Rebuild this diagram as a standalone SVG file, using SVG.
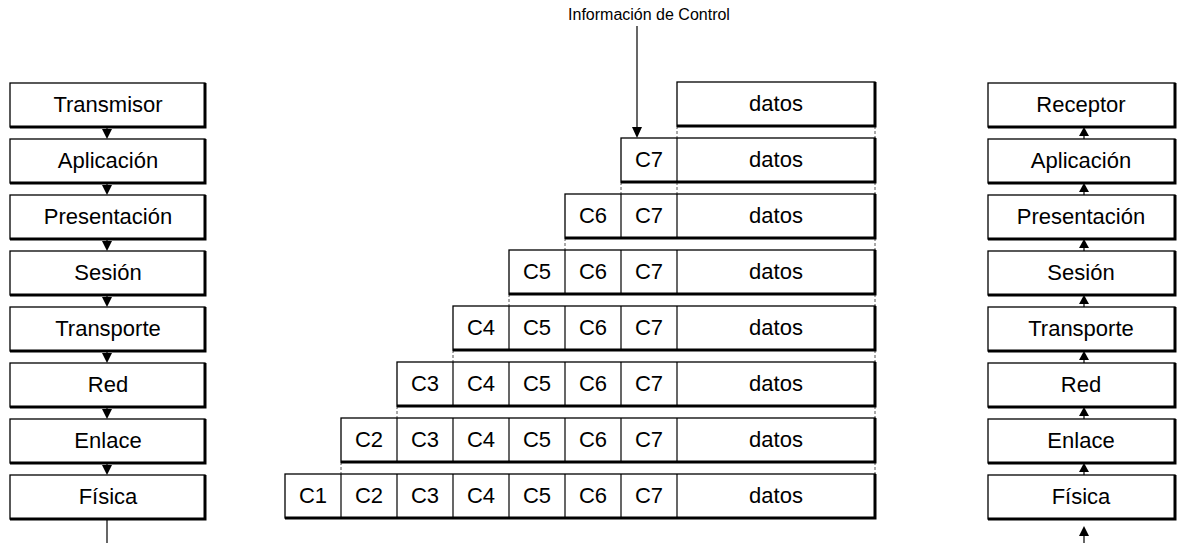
<svg xmlns="http://www.w3.org/2000/svg" width="1177" height="543" viewBox="0 0 1177 543">
<style>
.b{fill:#fff;stroke:#000;stroke-width:1.3}
.s{fill:none;stroke:#000;stroke-width:3}
.t{font-family:"Liberation Sans",Arial,sans-serif;font-size:22px;text-anchor:middle;fill:#000}
.sm{font-family:"Liberation Sans",Arial,sans-serif;font-size:16px;text-anchor:middle;fill:#000}
.c{stroke:#000;stroke-width:1.2;fill:none}
.g{stroke:#555;stroke-width:1;stroke-dasharray:3 2;fill:none}
.tri{fill:#000}
</style>
<defs>
<g id="lbox"><rect class="b" x="0" y="0" width="195" height="44"/><polyline class="s" points="195,0 195,44 0,44"/></g>
<g id="rbox"><rect class="b" x="0" y="0" width="187" height="44"/><polyline class="s" points="187,0 187,44 0,44"/></g>
</defs>

<g id="connectors">
<g id="left-arrows">
<line class="c" x1="107" y1="126" x2="107" y2="130"/><polygon class="tri" points="102,129 112,129 107,139"/>
<line class="c" x1="107" y1="182" x2="107" y2="186"/><polygon class="tri" points="102,185 112,185 107,195"/>
<line class="c" x1="107" y1="238" x2="107" y2="242"/><polygon class="tri" points="102,241 112,241 107,251"/>
<line class="c" x1="107" y1="294" x2="107" y2="298"/><polygon class="tri" points="102,297 112,297 107,307"/>
<line class="c" x1="107" y1="350" x2="107" y2="354"/><polygon class="tri" points="102,353 112,353 107,363"/>
<line class="c" x1="107" y1="406" x2="107" y2="410"/><polygon class="tri" points="102,409 112,409 107,419"/>
<line class="c" x1="107" y1="462" x2="107" y2="466"/><polygon class="tri" points="102,465 112,465 107,475"/>
<line class="c" x1="107" y1="519" x2="107" y2="543"/>
</g>
<g id="right-arrows">
<polygon class="tri" points="1079,136 1089,136 1084,127"/><line class="c" x1="1084" y1="135" x2="1084" y2="139"/>
<polygon class="tri" points="1079,192 1089,192 1084,183"/><line class="c" x1="1084" y1="191" x2="1084" y2="195"/>
<polygon class="tri" points="1079,248 1089,248 1084,239"/><line class="c" x1="1084" y1="247" x2="1084" y2="251"/>
<polygon class="tri" points="1079,304 1089,304 1084,295"/><line class="c" x1="1084" y1="303" x2="1084" y2="307"/>
<polygon class="tri" points="1079,360 1089,360 1084,351"/><line class="c" x1="1084" y1="359" x2="1084" y2="363"/>
<polygon class="tri" points="1079,416 1089,416 1084,407"/><line class="c" x1="1084" y1="415" x2="1084" y2="419"/>
<polygon class="tri" points="1079,472 1089,472 1084,463"/><line class="c" x1="1084" y1="471" x2="1084" y2="475"/>
<polygon class="tri" points="1079,536 1089,536 1084,526"/><line class="c" x1="1084" y1="536" x2="1084" y2="543"/>
</g>
<g id="control-arrow">
<line class="c" x1="637" y1="26" x2="637" y2="128"/><polygon class="tri" points="632,127 642,127 637,138"/>
</g>
<g id="guides">
<line class="g" x1="677" y1="126" x2="677" y2="138"/><line class="g" x1="875" y1="126" x2="875" y2="138"/>
<line class="g" x1="621" y1="182" x2="621" y2="194"/><line class="g" x1="677" y1="182" x2="677" y2="194"/><line class="g" x1="875" y1="182" x2="875" y2="194"/>
<line class="g" x1="565" y1="238" x2="565" y2="250"/><line class="g" x1="875" y1="238" x2="875" y2="250"/>
<line class="g" x1="509" y1="294" x2="509" y2="306"/><line class="g" x1="875" y1="294" x2="875" y2="306"/>
<line class="g" x1="453" y1="350" x2="453" y2="362"/><line class="g" x1="875" y1="350" x2="875" y2="362"/>
<line class="g" x1="397" y1="406" x2="397" y2="418"/><line class="g" x1="875" y1="406" x2="875" y2="418"/>
<line class="g" x1="341" y1="462" x2="341" y2="474"/><line class="g" x1="875" y1="462" x2="875" y2="474"/>
</g>
</g>

<g id="left-stack">
<g id="tx"><use href="#lbox" x="10" y="83"/><text class="t" x="108" y="112">Transmisor</text></g>
<g id="l-app"><use href="#lbox" x="10" y="139"/><text class="t" x="108" y="168">Aplicación</text></g>
<g id="l-pre"><use href="#lbox" x="10" y="195"/><text class="t" x="108" y="224">Presentación</text></g>
<g id="l-ses"><use href="#lbox" x="10" y="251"/><text class="t" x="108" y="280">Sesión</text></g>
<g id="l-tra"><use href="#lbox" x="10" y="307"/><text class="t" x="108" y="336">Transporte</text></g>
<g id="l-red"><use href="#lbox" x="10" y="363"/><text class="t" x="108" y="392">Red</text></g>
<g id="l-enl"><use href="#lbox" x="10" y="419"/><text class="t" x="108" y="448">Enlace</text></g>
<g id="l-fis"><use href="#lbox" x="10" y="475"/><text class="t" x="108" y="504">Física</text></g>
</g>

<g id="right-stack">
<g id="rx"><use href="#rbox" x="988" y="83"/><text class="t" x="1081" y="112">Receptor</text></g>
<g id="r-app"><use href="#rbox" x="988" y="139"/><text class="t" x="1081" y="168">Aplicación</text></g>
<g id="r-pre"><use href="#rbox" x="988" y="195"/><text class="t" x="1081" y="224">Presentación</text></g>
<g id="r-ses"><use href="#rbox" x="988" y="251"/><text class="t" x="1081" y="280">Sesión</text></g>
<g id="r-tra"><use href="#rbox" x="988" y="307"/><text class="t" x="1081" y="336">Transporte</text></g>
<g id="r-red"><use href="#rbox" x="988" y="363"/><text class="t" x="1081" y="392">Red</text></g>
<g id="r-enl"><use href="#rbox" x="988" y="419"/><text class="t" x="1081" y="448">Enlace</text></g>
<g id="r-fis"><use href="#rbox" x="988" y="475"/><text class="t" x="1081" y="504">Física</text></g>
</g>

<g id="control-label"><text class="sm" x="649" y="20">Información de Control</text></g>

<g id="packets">
<g id="row0">
<rect class="b" x="677" y="82" width="198" height="44"/><polyline class="s" points="875,82 875,126 677,126"/>
<text class="t" x="776" y="111">datos</text>
</g>
<g id="row1">
<rect class="b" x="621" y="138" width="254" height="44"/><line class="c" x1="677" y1="138" x2="677" y2="182"/><polyline class="s" points="875,138 875,182 621,182"/>
<text class="t" x="649" y="167">C7</text><text class="t" x="776" y="167">datos</text>
</g>
<g id="row2">
<rect class="b" x="565" y="194" width="310" height="44"/><line class="c" x1="621" y1="194" x2="621" y2="238"/><line class="c" x1="677" y1="194" x2="677" y2="238"/><polyline class="s" points="875,194 875,238 565,238"/>
<text class="t" x="593" y="223">C6</text><text class="t" x="649" y="223">C7</text><text class="t" x="776" y="223">datos</text>
</g>
<g id="row3">
<rect class="b" x="509" y="250" width="366" height="44"/><line class="c" x1="565" y1="250" x2="565" y2="294"/><line class="c" x1="621" y1="250" x2="621" y2="294"/><line class="c" x1="677" y1="250" x2="677" y2="294"/><polyline class="s" points="875,250 875,294 509,294"/>
<text class="t" x="537" y="279">C5</text><text class="t" x="593" y="279">C6</text><text class="t" x="649" y="279">C7</text><text class="t" x="776" y="279">datos</text>
</g>
<g id="row4">
<rect class="b" x="453" y="306" width="422" height="44"/><line class="c" x1="509" y1="306" x2="509" y2="350"/><line class="c" x1="565" y1="306" x2="565" y2="350"/><line class="c" x1="621" y1="306" x2="621" y2="350"/><line class="c" x1="677" y1="306" x2="677" y2="350"/><polyline class="s" points="875,306 875,350 453,350"/>
<text class="t" x="481" y="335">C4</text><text class="t" x="537" y="335">C5</text><text class="t" x="593" y="335">C6</text><text class="t" x="649" y="335">C7</text><text class="t" x="776" y="335">datos</text>
</g>
<g id="row5">
<rect class="b" x="397" y="362" width="478" height="44"/><line class="c" x1="453" y1="362" x2="453" y2="406"/><line class="c" x1="509" y1="362" x2="509" y2="406"/><line class="c" x1="565" y1="362" x2="565" y2="406"/><line class="c" x1="621" y1="362" x2="621" y2="406"/><line class="c" x1="677" y1="362" x2="677" y2="406"/><polyline class="s" points="875,362 875,406 397,406"/>
<text class="t" x="425" y="391">C3</text><text class="t" x="481" y="391">C4</text><text class="t" x="537" y="391">C5</text><text class="t" x="593" y="391">C6</text><text class="t" x="649" y="391">C7</text><text class="t" x="776" y="391">datos</text>
</g>
<g id="row6">
<rect class="b" x="341" y="418" width="534" height="44"/><line class="c" x1="397" y1="418" x2="397" y2="462"/><line class="c" x1="453" y1="418" x2="453" y2="462"/><line class="c" x1="509" y1="418" x2="509" y2="462"/><line class="c" x1="565" y1="418" x2="565" y2="462"/><line class="c" x1="621" y1="418" x2="621" y2="462"/><line class="c" x1="677" y1="418" x2="677" y2="462"/><polyline class="s" points="875,418 875,462 341,462"/>
<text class="t" x="369" y="447">C2</text><text class="t" x="425" y="447">C3</text><text class="t" x="481" y="447">C4</text><text class="t" x="537" y="447">C5</text><text class="t" x="593" y="447">C6</text><text class="t" x="649" y="447">C7</text><text class="t" x="776" y="447">datos</text>
</g>
<g id="row7">
<rect class="b" x="285" y="474" width="590" height="44"/><line class="c" x1="341" y1="474" x2="341" y2="518"/><line class="c" x1="397" y1="474" x2="397" y2="518"/><line class="c" x1="453" y1="474" x2="453" y2="518"/><line class="c" x1="509" y1="474" x2="509" y2="518"/><line class="c" x1="565" y1="474" x2="565" y2="518"/><line class="c" x1="621" y1="474" x2="621" y2="518"/><line class="c" x1="677" y1="474" x2="677" y2="518"/><polyline class="s" points="875,474 875,518 285,518"/>
<text class="t" x="313" y="503">C1</text><text class="t" x="369" y="503">C2</text><text class="t" x="425" y="503">C3</text><text class="t" x="481" y="503">C4</text><text class="t" x="537" y="503">C5</text><text class="t" x="593" y="503">C6</text><text class="t" x="649" y="503">C7</text><text class="t" x="776" y="503">datos</text>
</g>
</g>
</svg>
